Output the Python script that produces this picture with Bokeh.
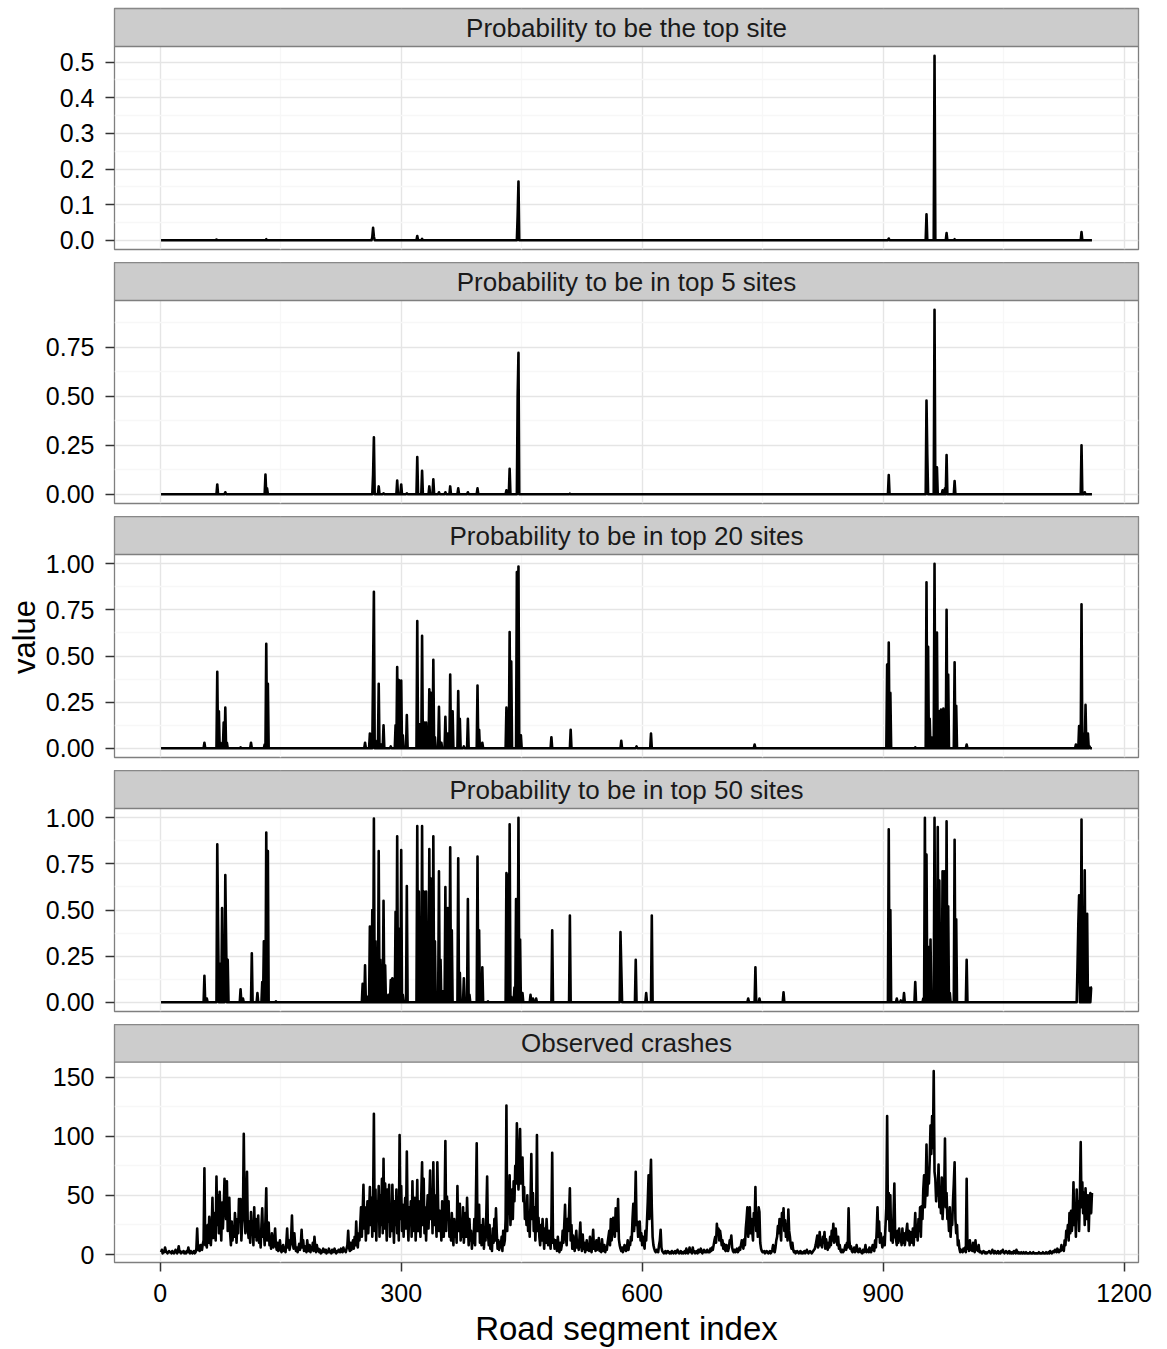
import numpy as np
from bokeh.plotting import figure
from bokeh.layouts import column
from bokeh.models import Range1d, FixedTicker, PrintfTickFormatter, ColumnDataSource, Label, BoxAnnotation
from bokeh.embed import file_html
from bokeh.resources import INLINE

# ---------------- data ----------------
strip_titles = ["Probability to be the top site", "Probability to be in top 5 sites",
                "Probability to be in top 20 sites", "Probability to be in top 50 sites",
                "Observed crashes"]

crashes = [
    2,4,1,3,2,6,3,2,1,2, 3,2,2,1,3,2,1,2,4,2, 1,3,7,2,3,1,2,2,3,1, 2,1,3,2,6,2,1,3,2,1,
    2,3,1,2,5,22,4,6,3,8, 5,4,9,12,73,8,15,6,25,10, 32,12,8,20,48,14,35,22,12,66, 25,50,18,53,30,12,44,22,38,64,
    45,30,62,20,40,48,18,8,28,12, 22,15,35,24,10,30,18,47,30,47, 12,26,35,102,40,18,30,70,22,14, 28,10,36,18,24,8,40,15,30,12,
    22,33,10,18,6,25,39,15,20,8, 30,56,12,22,27,8,15,5,18,10, 6,12,22,8,4,10,3,6,12,4, 2,5,8,3,6,2,10,22,6,12,
    4,8,15,33,10,5,18,8,3,6, 2,5,9,4,8,21,6,12,3,7, 4,2,12,5,3,8,2,6,4,10, 3,15,6,2,8,3,5,2,4,1,
    3,2,5,3,2,4,1,3,2,5, 2,3,1,4,2,3,5,2,1,3, 2,4,3,2,5,3,2,6,3,4, 2,5,8,20,6,3,10,4,8,12,
    5,15,8,28,10,6,18,12,25,40, 15,35,59,22,40,12,30,45,18,35, 57,25,48,15,40,119,20,55,12,45, 30,58,15,50,25,64,18,81,22,60,
    35,12,55,28,59,15,40,20,59,30, 10,45,25,55,18,38,12,101,30,58, 20,42,15,35,48,22,87,30,12,40, 25,45,15,62,20,35,48,12,30,63,
    20,45,30,15,50,78,25,64,18,40, 12,35,50,22,45,71,30,55,18,78, 25,50,35,15,78,40,20,37,30,12, 45,25,15,38,96,20,49,30,45,15,
    28,12,35,20,8,30,15,25,10,58, 20,35,43,12,28,15,40,10,22,35, 15,48,25,8,30,12,20,5,15,10, 30,8,45,94,20,35,42,10,25,8,
    15,30,5,20,12,35,66,18,8,25, 5,15,3,22,10,30,12,39,18,5, 12,4,10,6,15,3,20,8,12,30, 126,20,48,35,67,25,40,55,30,62,
    45,75,60,111,80,55,70,106,60,75, 82,45,57,30,40,25,50,20,35,15, 45,85,30,52,20,40,12,30,101,20, 31,15,8,25,12,30,18,5,22,10,
    30,15,8,20,12,5,25,86,10,13, 5,12,8,3,15,6,2,10,4,8, 20,10,25,42,15,8,30,20,35,56, 12,25,5,16,8,3,12,20,6,10,
    4,15,27,8,3,17,5,10,2,6, 12,4,8,3,15,6,2,10,21,5, 8,3,12,4,6,14,3,8,2,13, 5,3,8,2,6,4,10,15,20,8,
    30,12,20,31,25,15,39,28,20,47, 13,8,5,3,6,2,4,8,5,3, 6,12,4,10,8,15,12,30,43,20, 35,70,25,28,15,20,28,12,18,8,
    15,10,5,20,12,28,45,67,30,60, 80,40,15,8,5,3,2,4,3,2, 8,12,21,6,3,2,1,2,3,1, 2,3,2,1,2,1,3,2,1,2,
    3,1,2,4,2,1,2,3,1,2, 1,2,3,1,5,2,1,2,6,3, 2,1,6,2,3,1,2,3,1,4, 2,3,5,2,1,3,4,2,3,2,
    4,2,3,2,5,3,6,4,8,12, 15,10,26,18,22,12,20,15,8,12, 5,9,4,3,8,5,3,6,12,10, 16,6,3,2,4,2,3,5,2,3,
    6,4,8,12,10,5,13,8,22,30, 40,15,25,40,18,30,20,12,35,25, 57,20,30,15,40,36,10,5,3,2, 2,3,1,2,3,2,1,2,3,1,
    2,4,8,3,2,6,12,15,24,18, 30,20,12,35,25,39,20,29,15,25, 12,38,20,15,8,5,10,4,2,3, 1,2,3,2,1,2,3,1,2,1,
    2,3,1,2,4,2,1,2,3,2, 1,2,3,4,5,8,12,16,6,10, 19,8,12,6,15,10,19,5,13,8, 4,10,6,15,8,20,12,26,10,18,
    22,12,8,15,5,8,3,2,4,2, 3,5,8,4,10,6,39,12,5,7, 3,2,4,6,2,3,8,4,2,3, 5,2,3,1,4,2,3,8,2,3,
    4,2,6,3,2,5,8,4,3,12, 6,20,40,15,28,10,18,12,6,9, 15,8,25,40,117,30,52,20,50,12, 28,10,35,60,15,13,8,20,10,22,
    12,15,8,22,10,18,8,14,20,26, 12,20,8,19,15,10,22,8,20,35, 15,25,12,30,20,40,15,41,30,55, 67,40,55,93,50,70,60,80,109,85,
    117,90,155,70,64,45,60,50,76,40, 54,35,65,30,45,50,98,40,52,30, 34,20,40,15,30,25,45,60,78,30, 18,25,8,12,5,2,4,3,2,5,
    3,6,2,64,5,8,3,12,4,6, 3,10,5,2,12,4,6,3,8,2, 3,2,1,2,3,2,1,2,1,2, 2,3,2,1,2,4,2,1,3,2,
    1,2,3,1,2,1,3,2,4,2, 1,2,3,2,1,2,3,1,2,1, 2,1,3,2,1,4,2,1,2,1, 1,2,1,1,2,1,1,2,1,1,
    1,1,2,1,1,1,2,1,1,1, 1,1,1,2,1,1,1,1,2,1, 1,1,2,1,1,2,1,3,2,1, 2,3,2,4,3,2,5,3,2,4,
    3,8,4,6,3,12,8,20,15,25, 12,35,18,37,20,30,61,25,40,15, 55,30,45,20,50,95,40,61,35,52, 25,56,40,30,50,20,45,52,35,52,
]

# non-zero probabilities (segment index, value); all other segments are 0
top1_idx = [70, 132, 264, 265, 266, 320, 326, 445, 446, 907, 954, 964, 979, 989, 1147]
top1_val = [0.002, 0.003, 0.008, 0.035, 0.01, 0.012, 0.004, 0.07, 0.165, 0.005, 0.073, 0.518, 0.02, 0.003, 0.023]

top5_idx = [71, 81, 131, 133, 265, 266, 272, 278, 295, 300, 307, 320, 326, 335, 340, 347, 355, 361, 371, 383,
            395, 431, 435, 445, 446, 510, 907, 954, 955, 964, 967, 974, 977, 979, 989, 1147, 1151]
top5_val = [0.05, 0.01, 0.10, 0.03, 0.10, 0.29, 0.04, 0.005, 0.07, 0.05, 0.005, 0.19, 0.12, 0.04, 0.076, 0.01, 0.01,
            0.04, 0.03, 0.01, 0.03, 0.02, 0.13, 0.50, 0.72, 0.003, 0.098, 0.478, 0.2, 0.94, 0.138, 0.02, 0.03, 0.2,
            0.067, 0.25, 0.01]

top20_idx = [55, 71, 73, 75, 79, 81, 83, 100, 113, 130, 132, 134, 255, 261, 265, 266, 268, 272, 275, 278, 287, 293,
             295, 297, 300, 302, 307, 320, 323, 326, 329, 331, 335, 337, 340, 342, 347, 350, 355, 358, 361, 364, 371,
             373, 378, 383, 395, 397, 401, 431, 435, 437, 444, 446, 449, 487, 511, 574, 593, 611, 740, 905, 907, 909,
             940, 954, 956, 958, 960, 964, 967, 970, 972, 975, 979, 981, 989, 991, 1004, 1140, 1144, 1147, 1149, 1152,
             1155, 1157]
top20_val = [0.03, 0.414, 0.2, 0.03, 0.14, 0.22, 0.03, 0.005, 0.03, 0.02, 0.566, 0.35, 0.03, 0.08, 0.43, 0.848, 0.04,
             0.35, 0.02, 0.125, 0.01, 0.125, 0.44, 0.37, 0.367, 0.07, 0.18, 0.69, 0.13, 0.61, 0.14, 0.14, 0.32, 0.3,
             0.48, 0.06, 0.225, 0.03, 0.17, 0.08, 0.40, 0.2, 0.31, 0.16, 0.01, 0.16, 0.34, 0.1, 0.03, 0.22, 0.63, 0.47,
             0.955, 0.985, 0.07, 0.06, 0.1, 0.04, 0.01, 0.08, 0.02, 0.453, 0.573, 0.3, 0.005, 0.90, 0.55, 0.16, 0.06,
             1.0, 0.627, 0.2, 0.21, 0.215, 0.75, 0.4, 0.466, 0.23, 0.02, 0.02, 0.12, 0.78, 0.08, 0.235, 0.08, 0.01]

top50_idx = [55, 58, 71, 72, 74, 77, 81, 82, 84, 100, 103, 114, 121, 127, 129, 132, 134, 144, 252, 255, 258, 261, 264,
             266, 268, 272, 274, 278, 280, 284, 287, 289, 293, 295, 297, 300, 302, 307, 320, 322, 326, 328, 331, 335,
             337, 340, 342, 347, 349, 352, 355, 358, 361, 363, 371, 373, 378, 383, 385, 395, 397, 401, 408, 431, 433,
             435, 437, 441, 443, 446, 448, 451, 461, 464, 468, 488, 510, 573, 574, 592, 605, 612, 732, 741, 746, 776,
             907, 909, 917, 922, 926, 940, 950, 952, 954, 956, 959, 964, 966, 968, 970, 972, 974, 976, 979, 981, 983,
             989, 991, 1004, 1142, 1143, 1144, 1147, 1149, 1151, 1154, 1156, 1159, 1160]
top50_val = [0.144, 0.02, 0.856, 0.42, 0.21, 0.51, 0.69, 0.34, 0.23, 0.07, 0.02, 0.265, 0.05, 0.11, 0.33, 0.92, 0.82,
             0.005, 0.1, 0.2, 0.03, 0.41, 0.5, 0.996, 0.33, 0.82, 0.23, 0.55, 0.2, 0.04, 0.12, 0.13, 0.49, 0.90, 0.4,
             0.825, 0.04, 0.63, 0.955, 0.6, 0.955, 0.6, 0.6, 0.83, 0.67, 0.90, 0.33, 0.71, 0.23, 0.06, 0.625, 0.51,
             0.84, 0.39, 0.78, 0.16, 0.13, 0.56, 0.04, 0.79, 0.39, 0.19, 0.005, 0.70, 0.69, 0.964, 0.03, 0.08, 0.56,
             1.0, 0.34, 0.05, 0.04, 0.02, 0.02, 0.39, 0.47, 0.38, 0.19, 0.23, 0.05, 0.47, 0.02, 0.19, 0.02, 0.054,
             0.937, 0.5, 0.02, 0.01, 0.05, 0.11, 0.02, 1.0, 0.8, 0.3, 0.34, 1.0, 0.3, 0.95, 0.66, 0.14, 0.71, 0.71,
             0.98, 0.52, 0.05, 0.88, 0.45, 0.23, 0.19, 0.42, 0.58, 0.99, 0.3, 0.715, 0.48, 0.08, 0.08, 0.08]

y_ticks = [[0, 0.1, 0.2, 0.3, 0.4, 0.5], [0, 0.25, 0.5, 0.75], [0, 0.25, 0.5, 0.75, 1.0],
           [0, 0.25, 0.5, 0.75, 1.0], [0, 50, 100, 150]]
y_minor = [[0.05, 0.15, 0.25, 0.35, 0.45], [0.125, 0.375, 0.625, 0.875],
           [0.125, 0.375, 0.625, 0.875], [0.125, 0.375, 0.625, 0.875], [25, 75, 125]]
y_formats = ["%.1f", "%.2f", "%.2f", "%.2f", "%d"]
x_ticks = [0, 300, 600, 900, 1200]
x_minor = [150, 450, 750, 1050]

N = len(crashes)
segment = np.arange(1, N + 1)


def dense(idx, val):
    arr = np.zeros(N)
    for i, v in zip(idx, val):
        if 1 <= i <= N:
            arr[i - 1] = v
    return arr


series = [dense(top1_idx, top1_val), dense(top5_idx, top5_val), dense(top20_idx, top20_val),
          dense(top50_idx, top50_val), np.array(crashes, dtype=float)]

# ---------------- layout / style ----------------
FONT = "Liberation Sans"
W = 1167
LEFT, RIGHT = 114, 29
PANEL_H = 203
STRIP_H = 38
GAP = 13

span = N - 1
x_lo, x_hi = 1 - 0.05 * span, N + 0.05 * span


def make_facet(k, top, bottom, last=False, ylabel=None):
    vals = series[k]
    lo, hi = float(vals.min()), float(vals.max())
    d = hi - lo
    ylo, yhi = lo - 0.05 * d, hi + 0.05 * d
    strip_top = yhi + (yhi - ylo) * STRIP_H / PANEL_H
    p = figure(width=W, height=top + PANEL_H + STRIP_H + bottom,
               x_range=Range1d(x_lo, x_hi), y_range=Range1d(ylo, strip_top),
               x_axis_location="below" if last else None, toolbar_location=None,
               output_backend="svg", min_border_left=LEFT, min_border_right=RIGHT,
               min_border_top=top, min_border_bottom=bottom)
    p.background_fill_color = "white"
    p.border_fill_color = "white"
    p.outline_line_color = "#7F7F7F"
    p.outline_line_width = 1.3

    xt = FixedTicker(ticks=x_ticks, minor_ticks=x_minor)
    yt = FixedTicker(ticks=y_ticks[k], minor_ticks=y_minor[k])
    p.xgrid.ticker = xt
    p.ygrid.ticker = yt
    for g in (p.xgrid, p.ygrid):
        g.grid_line_color = "#E5E5E5"
        g.grid_line_width = 1.4
        g.minor_grid_line_color = "#F7F7F7"
        g.minor_grid_line_width = 1.4

    axes = [p.yaxis]
    p.yaxis.ticker = yt
    p.yaxis.formatter = PrintfTickFormatter(format=y_formats[k])
    if last:
        p.xaxis.ticker = xt
        p.xaxis.axis_label = "Road segment index"
        axes.append(p.xaxis)
    if ylabel:
        p.yaxis.axis_label = ylabel
    for ax in axes:
        ax.axis_line_color = None
        ax.major_tick_line_color = "#333333"
        ax.major_tick_line_width = 1.5
        ax.major_tick_out = 9
        ax.major_tick_in = 0
        ax.minor_tick_line_color = None
        ax.major_label_text_font = FONT
        ax.major_label_text_font_size = "25px"
        ax.major_label_text_color = "black"
        ax.axis_label_text_font = FONT
        ax.axis_label_text_font_style = "normal"
        ax.axis_label_text_color = "black"
    p.yaxis.major_label_standoff = 11
    p.yaxis.axis_label_text_font_size = "31px"
    p.yaxis.axis_label_standoff = 1
    if last:
        p.xaxis.major_label_standoff = 12
        p.xaxis.axis_label_text_font_size = "33px"
        p.xaxis.axis_label_standoff = 5

    src = ColumnDataSource(dict(x=segment, y=vals))
    p.line("x", "y", source=src, line_color="black", line_width=2.6, line_join="round")

    # facet strip (grey header) above the panel area
    p.add_layout(BoxAnnotation(bottom=yhi, top=strip_top, fill_color="#CCCCCC", fill_alpha=1.0,
                               line_color="#7F7F7F", line_width=1.3, line_alpha=1.0))
    p.add_layout(Label(x=(x_lo + x_hi) / 2, y=(yhi + strip_top) / 2, text=strip_titles[k],
                       text_align="center", text_baseline="middle",
                       text_font=FONT, text_font_size="26px", text_color="#1A1A1A"))
    return p


children = []
for k in range(5):
    last = (k == 4)
    children.append(make_facet(k, top=8 if k == 0 else 0, bottom=84 if last else GAP,
                               last=last, ylabel="value" if k == 2 else None))

layout = column(*children, spacing=0)

open("out.html", "w").write(file_html(layout, INLINE))
